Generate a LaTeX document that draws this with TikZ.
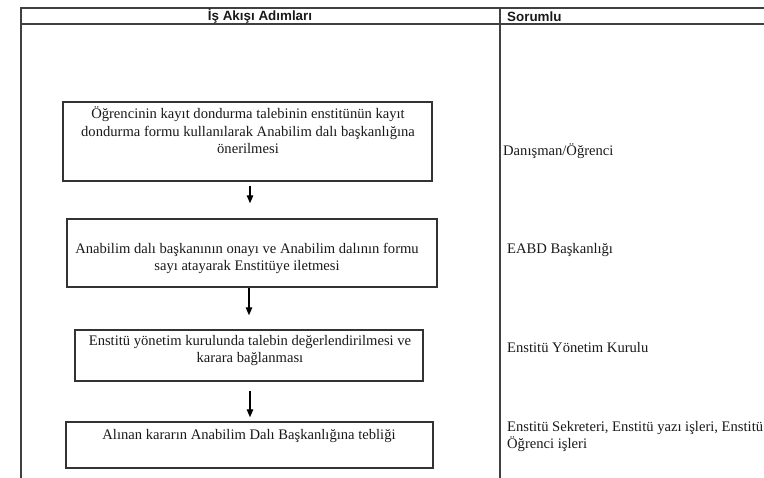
\documentclass[tikz,border=0pt]{standalone}
\usepackage{fontspec}
\setmainfont{Liberation Serif}
\newfontfamily\hdrfont{Liberation Sans}
\usetikzlibrary{arrows.meta}
\begin{document}
\begin{tikzpicture}[x=1pt,y=-1pt,
  tableline/.style={line width=1.3pt,draw=black!75},
  stepbox/.style={draw=black!80,line width=1.4pt,rectangle,inner sep=0pt},
  steptext/.style={align=center,font=\fontsize{14.6}{17.5}\selectfont,inner sep=0pt,text=black!90},
  resp/.style={anchor=west,align=left,font=\fontsize{14.6}{17.5}\selectfont,inner sep=0pt,text=black!90},
  hdr/.style={font=\hdrfont\bfseries\fontsize{13.4}{14}\selectfont,inner sep=0pt,text=black!90},
  arr/.style={line width=1.3pt,-{Triangle[length=8pt,width=6.5pt]}}]
\useasboundingbox (0,0) rectangle (764,478);
% table
\coordinate (tl) at (21,8);
\coordinate (tr) at (780,8);
\coordinate (hl) at (21,24);
\coordinate (hr) at (780,24);
\coordinate (bl) at (21,490);
\coordinate (dt) at (500,8);
\coordinate (db) at (500,490);
\draw[tableline] (tr) -- (tl) -- (bl);
\draw[tableline] (hl) -- (hr);
\draw[tableline] (dt) -- (db);
\node[hdr] (h1) at (260,16.5) {İş Akışı Adımları};
\node[hdr,anchor=west] (h2) at (507,16.5) {Sorumlu};
% boxes
\node[stepbox,minimum width=369pt,minimum height=79pt] (b1) at (247.5,141.5) {};
\node[stepbox,minimum width=370pt,minimum height=68pt] (b2) at (252,253) {};
\node[stepbox,minimum width=348pt,minimum height=51pt] (b3) at (249,355.5) {};
\node[stepbox,minimum width=367pt,minimum height=46pt] (b4) at (249.5,445) {};
\node[steptext] (t1) at (248,130.5) {Öğrencinin kayıt dondurma talebinin enstitünün kayıt\\dondurma formu kullanılarak Anabilim dalı başkanlığına\\önerilmesi};
\node[steptext] (t2) at (247,258.5) {Anabilim dalı başkanının onayı ve Anabilim dalının formu\\sayı atayarak Enstitüye iletmesi};
\node[steptext] (t3) at (250,350.5) {Enstitü yönetim kurulunda talebin değerlendirilmesi ve\\karara bağlanması};
\node[steptext] (t4) at (249,436) {Alınan kararın Anabilim Dalı Başkanlığına tebliği};
% arrows
\draw[arr,shorten <=4pt,shorten >=15pt] ([xshift=2.5pt]b1.south) -- ([xshift=2.5pt]b1.south |- b2.north);
\draw[arr,shorten >=14pt] ([xshift=-3pt]b2.south) -- ([xshift=-3pt]b2.south |- b3.north);
\draw[arr,shorten <=9pt,shorten >=4pt] ([xshift=1pt]b3.south) -- ([xshift=1pt]b3.south |- b4.north);
% responsibilities
\node[resp] (r1) at (503,151) {Danışman/Öğrenci};
\node[resp] (r2) at (507,250) {EABD Başkanlığı};
\node[resp] (r3) at (507,348) {Enstitü Yönetim Kurulu};
\node[resp] (r4) at (507,436.5) {Enstitü Sekreteri, Enstitü yazı işleri, Enstitü\\Öğrenci işleri};
\end{tikzpicture}
\end{document}
